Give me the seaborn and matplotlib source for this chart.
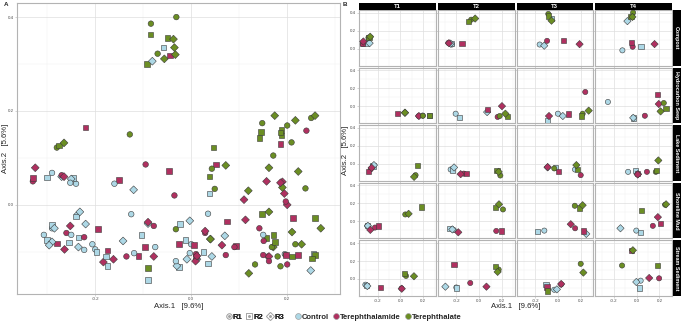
import pandas as pd
import seaborn as sns
import matplotlib.pyplot as plt
from matplotlib.patches import Rectangle
from matplotlib.lines import Line2D
from matplotlib.legend_handler import HandlerTuple
from matplotlib.ticker import MultipleLocator, FuncFormatter

# PCoA coordinates, order within each site: T1..T4 x (Control, Terephthalamide, Terephthalate) x (R1, R2, R3)
sites = ['Compost', 'Hydrocarbon Seep', 'Lake Sediment', 'Shoreline Mud', 'Stream Sediment']
times = ['T1', 'T2', 'T3', 'T4']
treatments = ['Control', 'Terephthalamide', 'Terephthalate']
reps = ['R1', 'R2', 'R3']

compost_x = [-0.29, -0.30, -0.27, -0.33, -0.33, -0.325, -0.28, -0.275, -0.265,
             -0.24, -0.245, -0.25, -0.27, -0.15, -0.265, -0.07, -0.092, -0.035,
             -0.16, -0.058, -0.12, -0.095, 0.052, 0.19, -0.084, -0.085, -0.056,
             -0.125, 0.038, -0.081, -0.035, -0.046, 0.157, -0.031, -0.049, -0.037]
compost_y = [0.068, 0.058, 0.06, 0.05, 0.057, 0.079, 0.122, 0.126, 0.132,
             0.045, 0.057, 0.055, 0.063, 0.053, 0.06, 0.322, 0.30, 0.335,
             0.045, 0.335, 0.032, 0.086, 0.086, 0.049, 0.386, 0.363, 0.311,
             -0.02, 0.024, 0.306, 0.02, 0.072, 0.05, 0.40, 0.355, 0.353]

seep_x = [0.195, 0.255, 0.04, 0.16, -0.026, 0.162, 0.197, 0.258, 0.04,
          -0.206, -0.174, 0.07, 0.162, 0.075, 0.2, 0.18, 0.252, 0.23,
          0.0, -0.09, 0.043, 0.24, 0.093, -0.078, 0.217, 0.21, 0.27,
          -0.252, -0.026, -0.03, 0.072, 0.186, 0.194, 0.238, 0.258, 0.21]
seep_y = [-0.105, -0.105, -0.073, -0.11, -0.084, -0.11, -0.107, -0.107, -0.073,
          -0.084, -0.13, -0.066, -0.12, -0.036, 0.0, -0.11, -0.114, -0.084,
          -0.084, -0.16, -0.11, 0.158, -0.088, -0.11, -0.084, -0.11, -0.05,
          0.047, -0.133, -0.13, -0.107, 0.13, 0.024, 0.035, -0.028, -0.058]

lake_x = [-0.238, -0.24, -0.232, -0.26, -0.28, -0.252, 0.133, 0.148, 0.12,
          -0.25, -0.235, -0.22, -0.135, -0.11, -0.162, 0.186, 0.157, 0.171,
          0.15, -0.023, -0.09, 0.2, 0.006, -0.09, -0.032, 0.171, 0.162,
          -0.075, -0.012, 0.012, 0.09, 0.01, 0.009, 0.168, 0.174, 0.19]
lake_y = [-0.022, -0.025, -0.015, -0.06, -0.082, -0.045, -0.127, -0.019, -0.146,
          -0.064, -0.07, -0.041, -0.11, -0.109, -0.116, -0.131, -0.071, -0.09,
          -0.064, -0.041, -0.04, -0.127, -0.086, -0.037, -0.052, -0.064, -0.015,
          -0.09, -0.075, -0.116, -0.09, -0.11, -0.12, -0.09, -0.079, 0.037]

shore_x = [-0.29, -0.29, -0.285, -0.223, -0.194, -0.264, 0.043, 0.188, 0.072,
           -0.223, -0.255, -0.235, 0.15, 0.197, -0.183, 0.209, 0.145, 0.174,
           -0.119, -0.177, 0.249, 0.151, 0.223, 0.113, 0.148, 0.188, 0.217,
           -0.003, 0.035, -0.142, 0.142, 0.212, 0.186, 0.25, 0.046, 0.258]
shore_y = [-0.05, -0.043, -0.05, -0.069, -0.051, -0.095, 0.077, 0.16, 0.084,
           -0.096, -0.08, -0.09, -0.107, -0.107, -0.122, 0.133, 0.155, 0.19,
           -0.103, -0.11, -0.14, -0.077, -0.107, -0.032, 0.174, 0.148, 0.18,
           -0.103, -0.125, -0.077, -0.05, -0.028, 0.047, 0.185, 0.122, 0.19]

stream_x = [-0.307, -0.30, -0.29, 0.01, -0.174, 0.012, 0.049, 0.038, 0.119,
            -0.2, -0.197, -0.296, -0.078, -0.22, 0.064, 0.171, 0.142, 0.162,
            -0.032, -0.104, -0.009, 0.029, -0.096, 0.029, 0.2, -0.09, 0.223,
            0.035, 0.026, -0.003, 0.197, -0.044, 0.11, -0.128, 0.186, -0.033]
stream_y = [-0.064, -0.075, -0.079, -0.105, -0.097, -0.109, 0.034, 0.06, 0.03,
            -0.095, -0.1, -0.086, -0.045, 0.165, -0.086, 0.105, 0.142, 0.079,
            -0.12, -0.064, -0.116, -0.06, -0.09, -0.056, 0.169, -0.135, 0.071,
            -0.019, -0.1, -0.034, 0.007, 0.318, 0.011, 0.15, 0.154, 0.32]

site_x = [compost_x, seep_x, lake_x, shore_x, stream_x]
site_y = [compost_y, seep_y, lake_y, shore_y, stream_y]

rows = []
for site, xs, ys in zip(sites, site_x, site_y):
    k = 0
    for t in times:
        for tr in treatments:
            for r in reps:
                rows.append((site, t, tr, r, xs[k], ys[k]))
                k += 1
df = pd.DataFrame(rows, columns=['Site', 'Time', 'Treatment', 'Rep', 'Axis1', 'Axis2'])

palette = {'Control': '#ADD8E6', 'Terephthalamide': '#B03060', 'Terephthalate': '#6B8E23'}
markers = {'R1': 'o', 'R2': 's', 'R3': 'D'}

sns.set_theme(style='white')
plt.rcParams['font.family'] = ['Liberation Sans', 'DejaVu Sans']

W, H = 683, 323
fig = plt.figure(figsize=(W / 100, H / 100), dpi=100)
XLIM = (-0.363, 0.31)
YLIM = (-0.19, 0.43)


def box(l, t, w, h):
    return [l / W, 1 - (t + h) / H, w / W, h / H]


def fmt(v, p):
    s = f'{v:.1f}'
    return '0.0' if s == '-0.0' else s


def style_ax(ax, show_x=True, show_y=True):
    ax.set_xlim(XLIM)
    ax.set_ylim(YLIM)
    ax.xaxis.set_major_locator(MultipleLocator(0.2))
    ax.xaxis.set_minor_locator(MultipleLocator(0.1))
    ax.yaxis.set_major_locator(MultipleLocator(0.2))
    ax.yaxis.set_minor_locator(MultipleLocator(0.1))
    ax.xaxis.set_major_formatter(FuncFormatter(fmt))
    ax.yaxis.set_major_formatter(FuncFormatter(fmt))
    ax.grid(which='major', color='#DEDEDE', lw=0.5)
    ax.grid(which='minor', color='#F0F0F0', lw=0.3)
    ax.set_axisbelow(True)
    for sp in ax.spines.values():
        sp.set_color('#B3B3B3')
        sp.set_linewidth(0.8)
    ax.tick_params(which='major', length=1.2, width=0.4, color='#B3B3B3',
                   labelsize=3.2, labelcolor='#4D4D4D', pad=1.0,
                   bottom=True, left=True, labelbottom=show_x, labelleft=show_y)
    ax.tick_params(which='minor', length=0)
    ax.set_xlabel('')
    ax.set_ylabel('')


def draw(ax, data, size):
    sns.scatterplot(data=data, x='Axis1', y='Axis2', hue='Treatment', style='Rep',
                    palette=palette, markers=markers, hue_order=treatments,
                    style_order=reps, s=size, edgecolor='#3A3A3A', linewidth=0.4,
                    legend=False, ax=ax, zorder=3)


# Panel A
axA = fig.add_axes(box(17, 3, 323, 291))
draw(axA, df, 16)
style_ax(axA)
fig.text(4 / W, 1 - 6 / H, 'A', fontsize=4.5, fontweight='bold')
fig.text(178.5 / W, 1 - 306 / H, 'Axis.1   [9.6%]', ha='center', va='center', fontsize=5.6, color='#222222')
fig.text(6 / W, 1 - 148.5 / H, 'Axis.2   [5.6%]', ha='center', va='center', rotation=90, fontsize=5.6, color='#222222')

# Panel B
col_l0, col_w, col_gap = 359, 76.75, 2
row_t0, row_h, row_gap = 10, 55.6, 2
for i, site in enumerate(sites):
    for j, t in enumerate(times):
        l = col_l0 + j * (col_w + col_gap)
        top = row_t0 + i * (row_h + row_gap)
        ax = fig.add_axes(box(l, top, col_w, row_h))
        sub = df[(df['Site'] == site) & (df['Time'] == t)]
        draw(ax, sub, 14)
        style_ax(ax, show_x=(i == len(sites) - 1), show_y=(j == 0))
        if i == 0:
            sb = box(l, 3, col_w, 7)
            fig.add_artist(Rectangle((sb[0], sb[1]), sb[2], sb[3], transform=fig.transFigure,
                                     facecolor='black', edgecolor='none'))
            fig.text(sb[0] + sb[2] / 2, sb[1] + sb[3] / 2, t, ha='center', va='center',
                     color='white', fontsize=4.2, fontweight='bold')
        if j == len(times) - 1:
            sb = box(l + col_w + 0.5, top, 8.5, row_h)
            fig.add_artist(Rectangle((sb[0], sb[1]), sb[2], sb[3], transform=fig.transFigure,
                                     facecolor='black', edgecolor='none'))
            fig.text(sb[0] + sb[2] / 2, sb[1] + sb[3] / 2, site, ha='center', va='center',
                     color='white', fontsize=3.9, fontweight='bold', rotation=-90)

fig.text(343 / W, 1 - 6 / H, 'B', fontsize=4.5, fontweight='bold')
fig.text(515.5 / W, 1 - 306.5 / H, 'Axis.1   [9.6%]', ha='center', va='center', fontsize=5.6, color='#222222')
fig.text(345.5 / W, 1 - 150 / H, 'Axis.2   [5.6%]', ha='center', va='center', rotation=90, fontsize=5.6, color='#222222')

# Legends
shape_handles = [(Line2D([], [], marker=markers[r], ls='', mfc='white', mec='#A0A0A0', ms=3.8, mew=0.6),
                  Line2D([], [], marker='o', ls='', color='#A0A0A0', ms=1.1)) for r in reps]
leg1 = fig.legend(shape_handles, reps, loc='center', bbox_to_anchor=(254.5 / W, 1 - 317 / H),
                  ncol=3, frameon=False, prop={'weight': 'bold', 'size': 5.5},
                  handletextpad=0.05, columnspacing=0.4, handlelength=1, borderpad=0,
                  handler_map={tuple: HandlerTuple(ndivide=1)})
fill_handles = [Line2D([], [], marker='o', ls='', mfc=palette[tr], mec='#A0A0A0', ms=4.2, mew=0.5)
                for tr in treatments]
leg2 = fig.legend(fill_handles, treatments, loc='center', bbox_to_anchor=(378 / W, 1 - 317 / H),
                  ncol=3, frameon=False, prop={'weight': 'bold', 'size': 5.5},
                  handletextpad=0.05, columnspacing=0.4, handlelength=1, borderpad=0)
fig.add_artist(leg1)

fig.savefig('out.png', dpi=100)
